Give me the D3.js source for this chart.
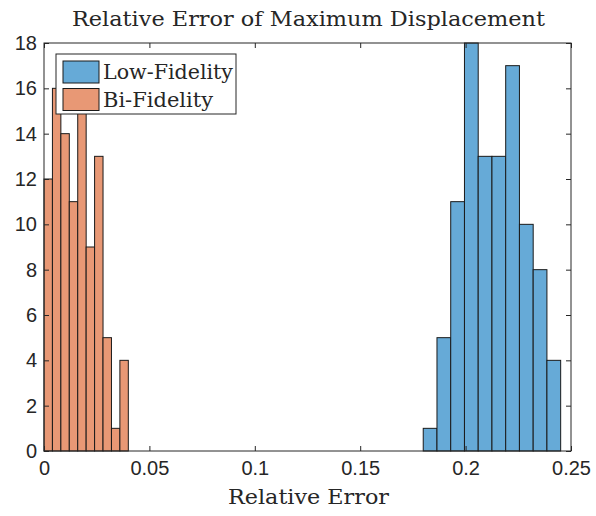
<!DOCTYPE html>
<html>
<head>
<meta charset="utf-8">
<script src="https://cdn.jsdelivr.net/npm/d3@7"></script>
<style>
  body { margin: 0; background: #fff; }
  .tick text { font-family: "Liberation Sans", Arial, sans-serif; font-size: 20px; fill: #262626; }
  .serif { font-family: "DejaVu Serif", "Liberation Serif", serif; fill: #262626; }
</style>
</head>
<body>
<script>
const w = 596;
const h = 516;
const margin = { top: 42, right: 25, bottom: 65, left: 44 };

// histogram counts
const lowEdge0 = 0.1799;
const lowBinWidth = 0.00652;
const lowCounts = [1, 5, 11, 18, 13, 13, 17, 10, 8, 4];
const biEdge0 = 0;
const biBinWidth = 0.004;
const biCounts = [12, 16, 14, 11, 15, 9, 13, 5, 1, 4];

const xTicks = [0, 0.05, 0.1, 0.15, 0.2, 0.25];
const yTicks = [0, 2, 4, 6, 8, 10, 12, 14, 16, 18];
const seriesNames = ["Low-Fidelity", "Bi-Fidelity"];
const seriesColors = ["#66aad7", "#e89875"];

const svg = d3
  .select("body")
  .append("svg")
  .attr("width", w)
  .attr("height", h);

const x = d3.scaleLinear().domain([0, 0.25]).range([margin.left, 571]);
const y = d3.scaleLinear().domain([0, 18]).range([451, 43]);

const series = [
  { name: seriesNames[0], color: seriesColors[0], edge0: lowEdge0, bw: lowBinWidth, counts: lowCounts, len: 130 },
  { name: seriesNames[1], color: seriesColors[1], edge0: biEdge0, bw: biBinWidth, counts: biCounts, len: 110 }
];

series.forEach((s) => {
  svg
    .append("g")
    .selectAll("rect")
    .data(s.counts)
    .enter()
    .append("rect")
    .attr("x", (d, i) => x(s.edge0 + i * s.bw))
    .attr("width", (d, i) => x(s.edge0 + (i + 1) * s.bw) - x(s.edge0 + i * s.bw))
    .attr("y", (d) => y(d))
    .attr("height", (d) => y(0) - y(d))
    .attr("fill", s.color)
    .attr("stroke", "#1a1a1a")
    .attr("stroke-width", 1);
});

// axes with inward ticks on all sides
const tickLen = 5;
svg
  .append("g")
  .attr("transform", `translate(0,${y(0)})`)
  .call(d3.axisBottom(x).tickValues(xTicks).tickFormat(d3.format("")).tickSizeInner(-tickLen).tickSizeOuter(0).tickPadding(10))
  .call((g) => g.select(".domain").remove());
svg
  .append("g")
  .attr("transform", `translate(0,${y(18)})`)
  .call(d3.axisTop(x).tickValues(xTicks).tickFormat("").tickSizeInner(-tickLen).tickSizeOuter(0))
  .call((g) => g.select(".domain").remove());
svg
  .append("g")
  .attr("transform", `translate(${x(0)},0)`)
  .call(d3.axisLeft(y).tickValues(yTicks).tickSizeInner(-tickLen).tickSizeOuter(0).tickPadding(7))
  .call((g) => g.select(".domain").remove());
svg
  .append("g")
  .attr("transform", `translate(${x(0.25)},0)`)
  .call(d3.axisRight(y).tickValues(yTicks).tickFormat("").tickSizeInner(-tickLen).tickSizeOuter(0))
  .call((g) => g.select(".domain").remove());

svg.selectAll(".tick line").attr("stroke", "#262626");

svg
  .append("rect")
  .attr("x", x(0))
  .attr("y", y(18))
  .attr("width", x(0.25) - x(0))
  .attr("height", y(0) - y(18))
  .attr("fill", "none")
  .attr("stroke", "#262626")
  .attr("stroke-width", 1);

// title and label
svg
  .append("text")
  .attr("class", "serif")
  .attr("x", 308.5)
  .attr("y", 26)
  .attr("text-anchor", "middle")
  .attr("font-size", 21)
  .attr("textLength", 473)
  .attr("lengthAdjust", "spacingAndGlyphs")
  .text("Relative Error of Maximum Displacement");
svg
  .append("text")
  .attr("class", "serif")
  .attr("x", 308.5)
  .attr("y", 504)
  .attr("text-anchor", "middle")
  .attr("font-size", 21)
  .attr("textLength", 161)
  .attr("lengthAdjust", "spacingAndGlyphs")
  .text("Relative Error");

// legend
const legend = svg.append("g").attr("transform", "translate(56,54)");
legend
  .append("rect")
  .attr("width", 180)
  .attr("height", 60)
  .attr("fill", "#fff")
  .attr("stroke", "#262626")
  .attr("stroke-width", 1);
const item = legend
  .selectAll("g")
  .data(series)
  .enter()
  .append("g")
  .attr("transform", (d, i) => `translate(7,${7 + i * 27.5})`);
item
  .append("rect")
  .attr("width", 36)
  .attr("height", 22)
  .attr("fill", (d) => d.color)
  .attr("stroke", "#1a1a1a");
item
  .append("text")
  .attr("class", "serif")
  .attr("x", 40)
  .attr("y", 18)
  .attr("font-size", 20)
  .attr("textLength", (d) => d.len)
  .attr("lengthAdjust", "spacingAndGlyphs")
  .text((d) => d.name);
</script>
</body>
</html>
